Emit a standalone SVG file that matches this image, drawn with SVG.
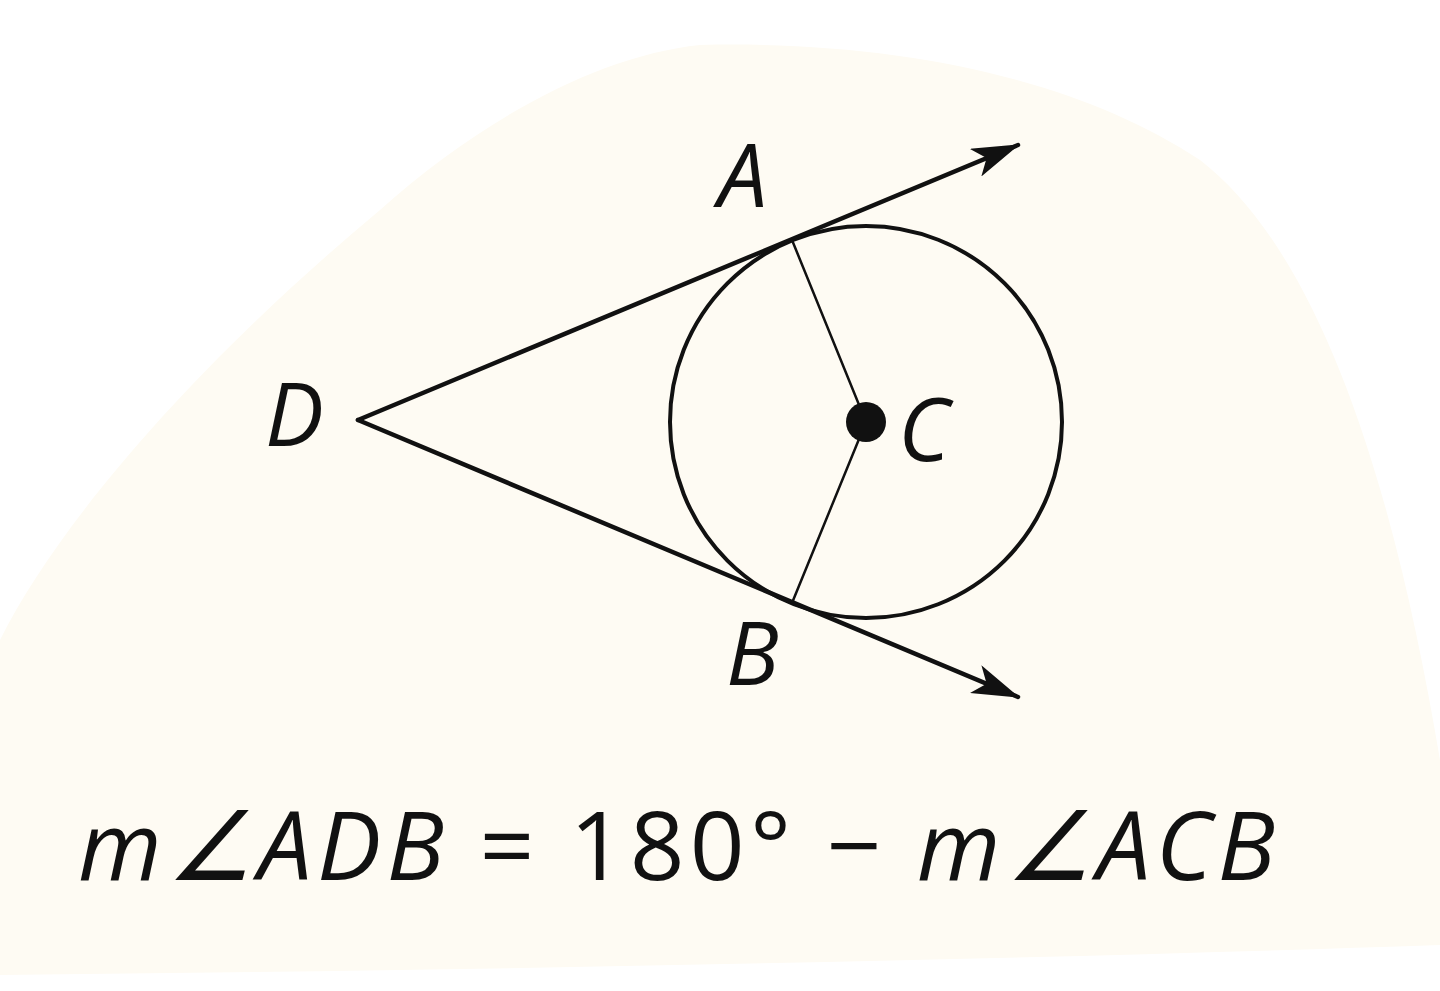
<svg xmlns="http://www.w3.org/2000/svg" width="1440" height="991" viewBox="0 0 1440 991">
<style>
.lbl{font-family:"Open Sans","Noto Sans","Liberation Sans",sans-serif;font-style:italic;fill:#111;}
.eq{font-family:"Open Sans","Noto Sans","Liberation Sans",sans-serif;fill:#111;font-size:96px;}
.ln{stroke:#111;fill:none;stroke-linecap:round;}
</style>
<defs>
<marker id="arr" viewBox="0 0 50 30" refX="46" refY="15" markerWidth="50" markerHeight="30" markerUnits="userSpaceOnUse" orient="auto">
<path d="M0,0 L48,15 L0,30 L12,15 Z" fill="#111"/>
</marker>
</defs>
<rect width="1440" height="991" fill="#ffffff"/>
<path d="M0,975 L0,640 C60,520 200,360 380,210 C480,120 600,55 700,45 C900,40 1080,80 1200,160 C1330,260 1400,520 1440,760 L1440,945 C1000,960 500,970 0,975 Z" fill="#fefbf3"/>
<g id="circle">
<circle cx="866" cy="422" r="196" class="ln" stroke-width="4"/>
</g>
<g id="connectors">
<line x1="358" y1="420" x2="1018" y2="145" class="ln" stroke-width="4.5" marker-end="url(#arr)"/>
<line x1="358" y1="420" x2="1018" y2="697" class="ln" stroke-width="4.5" marker-end="url(#arr)"/>
<line x1="792" y1="240" x2="866" y2="422" class="ln" stroke-width="2.5"/>
<line x1="792" y1="603" x2="866" y2="422" class="ln" stroke-width="2.5"/>
</g>
<g id="C">
<circle cx="866" cy="422" r="20" fill="#111"/>
<text class="lbl" x="898" y="461" font-size="88">C</text>
</g>
<g id="A"><text class="lbl" x="718" y="207" font-size="88">A</text></g>
<g id="B"><text class="lbl" x="726" y="685" font-size="88">B</text></g>
<g id="D"><text class="lbl" x="265" y="446" font-size="88">D</text></g>
<g id="equation">
<text class="eq" x="78" y="880" textLength="1197" lengthAdjust="spacing"><tspan font-style="italic">m∠ADB</tspan> = 180° − <tspan font-style="italic">m∠ACB</tspan></text>
</g>
</svg>
